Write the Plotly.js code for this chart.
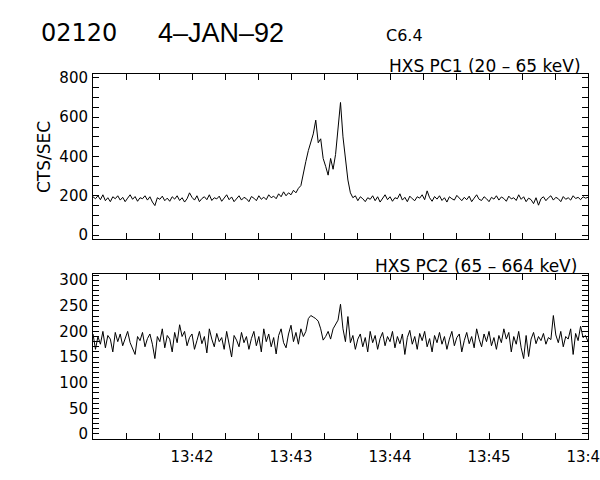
<!DOCTYPE html>
<html>
<head>
<meta charset="utf-8">
<script src="https://cdn.plot.ly/plotly-3.0.1.min.js"></script>
<style>html,body{margin:0;padding:0;background:#fff;}#chart{width:600px;height:480px;position:absolute;left:0;top:0;}</style>
</head>
<body>
<div id="chart"></div>
<script>
// ---- data ----
var startTime = Date.UTC(1992, 0, 4, 13, 41, 0);   // 13:41:00
var stepMs = 1500;                                   // sample spacing
var tickLabels = ["13:42", "13:43", "13:44", "13:45", "13:46"];
var tickMinutes = [42, 43, 44, 45, 46];

var pc1Counts = [
  195,185,200,180,205,175,190,170,195,185,
  200,178,192,170,188,205,182,196,172,190,
  185,200,178,195,168,150,190,182,198,175,
  188,172,195,183,200,176,190,168,185,215,
  192,178,200,170,186,195,180,205,176,190,
  184,198,172,188,205,180,194,170,186,200,
  178,192,185,170,196,188,175,200,182,193,
  180,205,190,198,185,210,195,220,200,215,
  205,228,215,238,252,320,375,430,480,515,
  585,470,490,390,350,305,390,335,410,565,
  675,500,380,280,215,190,200,175,195,185,
  170,190,182,200,175,195,168,188,205,180,
  195,172,190,185,210,178,192,170,198,185,
  175,195,188,205,180,225,190,172,196,183,
  200,176,190,168,195,185,178,202,188,175,
  192,180,198,170,188,205,182,176,195,185,
  170,192,183,200,178,194,186,172,198,184,
  190,176,205,182,195,170,188,180,160,190,
  152,185,195,175,190,200,178,192,185,170,
  196,182,190,178,200,186,192,180,195,188,
  192
];

var pc2Counts = [
  195,165,190,175,200,168,192,185,160,198,
  180,195,172,188,200,178,165,155,190,182,
  198,170,186,195,175,147,190,180,205,168,
  192,185,160,198,178,213,190,200,172,188,
  195,165,182,200,176,190,158,205,185,170,
  196,180,188,165,200,175,150,192,183,170,
  198,178,190,165,186,200,172,190,160,205,
  180,195,170,188,156,192,205,178,168,195,
  212,180,198,175,205,190,200,225,231,228,
  225,220,205,183,190,200,185,205,215,222,
  253,205,180,229,178,192,165,185,195,170,
  188,160,200,178,192,165,186,198,172,190,
  180,200,168,190,176,195,155,188,202,175,
  190,165,196,182,200,170,186,160,192,178,
  198,175,190,165,185,200,172,188,195,160,
  182,198,176,190,168,205,185,170,195,180,
  200,172,188,165,192,178,205,185,198,160,
  190,175,200,168,147,192,151,185,198,176,
  190,182,196,175,188,184,231,193,178,200,
  170,190,185,205,155,196,182,210,188,192,
  180
];

// ---- build chart ----
function times(n) { var a = []; for (var i = 0; i < n; i++) a.push(startTime + i * stepMs); return a; }
var majorVals = tickMinutes.map(function (m) { return Date.UTC(1992, 0, 4, 13, m, 0); });
var minorVals = [];
for (var s = 0; s <= 300; s += 20) minorVals.push(startTime + s * 1000);
var xRange = [startTime, startTime + 300000];

var FONT = "DejaVu Sans, Liberation Sans, Arial, sans-serif";
var blk = "#000";

function xAxis(showLabels, anchor) {
  return {
    type: "date", range: xRange, anchor: anchor,
    tickmode: "array", tickvals: majorVals, ticktext: tickLabels,
    showticklabels: showLabels, ticklabeloverflow: "allow",
    ticks: "inside", ticklen: 6, tickwidth: 1, tickcolor: blk,
    minor: { tickmode: "array", tickvals: minorVals, ticks: "inside", ticklen: 6, tickwidth: 1, tickcolor: blk, showgrid: false },
    showline: true, linecolor: blk, linewidth: 1, mirror: "allticks",
    showgrid: false, zeroline: false,
    tickfont: { family: FONT, size: 15, color: blk },
    ticklabelstandoff: 4
  };
}
function yAxis(range, dtick, minorDtick, domain, anchor) {
  return {
    range: range, domain: domain, anchor: anchor,
    tickmode: "linear", tick0: 0, dtick: dtick,
    ticks: "inside", ticklen: 6, tickwidth: 1, tickcolor: blk,
    minor: { dtick: minorDtick, tick0: 0, ticks: "inside", ticklen: 6, tickwidth: 1, tickcolor: blk, showgrid: false },
    showline: true, linecolor: blk, linewidth: 1, mirror: "allticks",
    showgrid: false, zeroline: false,
    tickfont: { family: FONT, size: 15, color: blk },
    ticklabelstandoff: 1
  };
}

var traces = [
  { x: times(pc1Counts.length), y: pc1Counts, xaxis: "x", yaxis: "y", type: "scatter", mode: "lines",
    line: { color: blk, width: 1 } },
  { x: times(pc2Counts.length), y: pc2Counts, xaxis: "x2", yaxis: "y2", type: "scatter", mode: "lines",
    line: { color: blk, width: 1 } }
];

// pixel -> paper helpers (plot area: x 93..588, y 74..439)
function px(x) { return (x - 93) / 495; }
function py(y) { return (439 - y) / 365; }

var layout = {
  width: 600, height: 480,
  margin: { l: 93, r: 12, t: 74, b: 41, pad: 0 },
  showlegend: false,
  xaxis: xAxis(false, "y"),
  yaxis: yAxis([-20, 820], 200, 50, [0.548, 1], "x"),
  xaxis2: Object.assign(xAxis(true, "y2"), { matches: "x" }),
  yaxis2: yAxis([-10, 312], 50, 10, [0, 0.452], "x2"),
  annotations: [
    { text: "02120", xref: "paper", yref: "paper", x: px(39), y: py(33), xanchor: "left", yanchor: "middle",
      showarrow: false, font: { family: "DejaVu Sans", size: 24, color: blk } },
    { text: "4–JAN–92", xref: "paper", yref: "paper", x: px(156), y: py(33), xanchor: "left", yanchor: "middle",
      showarrow: false, font: { family: "Liberation Sans", size: 27, color: blk } },
    { text: "C6.4", xref: "paper", yref: "paper", x: px(384), y: py(36), xanchor: "left", yanchor: "middle",
      showarrow: false, font: { family: FONT, size: 16, color: blk } },
    { text: "HXS PC1 (20 – 65 keV)", xref: "paper", yref: "paper", x: px(583), y: py(78), xanchor: "right", yanchor: "bottom",
      showarrow: false, font: { family: FONT, size: 17, color: blk } },
    { text: "HXS PC2 (65 – 664 keV)", xref: "paper", yref: "paper", x: px(579), y: py(278), xanchor: "right", yanchor: "bottom",
      showarrow: false, font: { family: FONT, size: 17, color: blk } },
    { text: "CTS/SEC", xref: "paper", yref: "paper", x: px(44), y: py(157), xanchor: "center", yanchor: "middle",
      textangle: -90, showarrow: false, font: { family: FONT, size: 17, color: blk } }
  ]
};

Plotly.newPlot("chart", traces, layout, { staticPlot: true }).then(function (gd) {
  gd.setAttribute("data-ready", "1");
});
</script>
</body>
</html>
